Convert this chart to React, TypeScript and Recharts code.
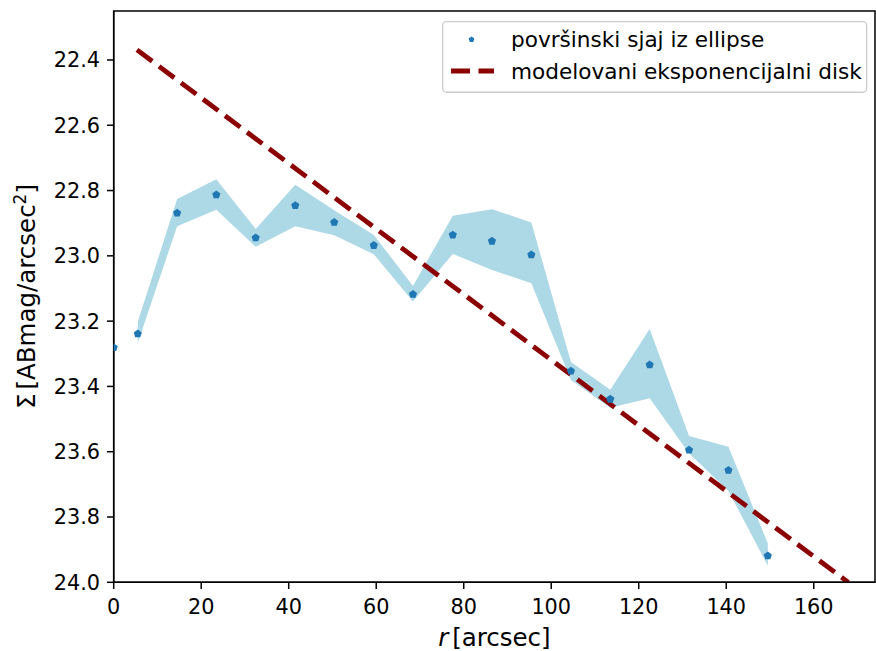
import React from "react";
import { ComposedChart, Area, Line, Scatter, XAxis, YAxis, Legend, ReferenceArea } from "recharts";

const FONT = "'DejaVu Sans', sans-serif";

// r [arcsec] for each isophote
const radius = [0, 5.5, 14.5, 23.45, 32.45, 41.5, 50.4, 59.45, 68.4, 77.5, 86.45, 95.45, 104.5, 113.5, 122.5, 131.5, 140.5, 149.5];
// surface brightness from ellipse
const brightness = [23.281, 23.239, 22.869, 22.813, 22.945, 22.846, 22.897, 22.968, 23.118, 22.936, 22.955, 22.997, 23.353, 23.439, 23.334, 23.595, 23.657, 23.919];
// error band edges (no band on the first point)
const bandLow = [null, 23.202, 22.826, 22.765, 22.918, 22.782, 22.86, 22.936, 23.092, 22.877, 22.857, 22.898, 23.325, 23.41, 23.224, 23.552, 23.585, 23.881];
const bandHigh = [null, 23.267, 22.909, 22.859, 22.972, 22.909, 22.937, 22.995, 23.14, 22.994, 23.043, 23.084, 23.38, 23.465, 23.436, 23.605, 23.72, 23.949];
// exponential disk model
const modelR = [5.33, 167.9];
const modelMag = [22.369, 24.0];

const xTicks = [0, 20, 40, 60, 80, 100, 120, 140, 160];
const yTicks = [22.4, 22.6, 22.8, 23.0, 23.2, 23.4, 23.6, 23.8, 24.0];

const rows = radius.map((r, i) => ({
  r,
  sb: brightness[i],
  band: bandLow[i] == null ? null : [bandLow[i], bandHigh[i]],
}));
const modelRows = modelR.map((r, i) => ({ r, model: modelMag[i] }));

function pentagon(cx: number, cy: number, rad: number) {
  const pts = [];
  for (let k = 0; k < 5; k++) {
    const a = -Math.PI / 2 + (k * 2 * Math.PI) / 5;
    pts.push(`${cx + rad * Math.cos(a)},${cy + rad * Math.sin(a)}`);
  }
  return pts.join(" ");
}

const Marker = (props: any) => {
  const { cx, cy } = props;
  if (cx == null || cy == null) return null;
  return <polygon points={pentagon(cx, cy, 4.3)} fill="#1f77b4" />;
};

const renderLegend = () => (
  <svg width={426} height={73} style={{ display: "block" }}>
    <rect x={0.65} y={0.65} width={424} height={70.6} rx={4} fill="#fff" fillOpacity={0.8} stroke="#cccccc" strokeWidth={1.3} />
    <polygon points={pentagon(29.5, 18.5, 3)} fill="#1f77b4" />
    <text x={69} y={18.5} dominantBaseline="central" fontFamily={FONT} fontSize={21.6} fill="#000">
      površinski sjaj iz ellipse
    </text>
    <line x1={9} y1={50} x2={52} y2={50} stroke="#8b0000" strokeWidth={4.8} strokeDasharray="19 8.5" />
    <text x={69} y={50} dominantBaseline="central" fontFamily={FONT} fontSize={21.6} fill="#000">
      modelovani eksponencijalni disk
    </text>
  </svg>
);

export default function App() {
  return (
    <div style={{ position: "absolute", left: 0, top: 0, width: 876, height: 651, background: "#fff" }}>
      <ComposedChart width={876} height={651} data={rows} margin={{ top: 11, right: 1, bottom: 0, left: 0 }}>
        <XAxis
          dataKey="r"
          type="number"
          domain={[0, 174]}
          ticks={xTicks}
          allowDataOverflow
          height={68.7}
          tickSize={6.7}
          tickMargin={10}
          axisLine={{ stroke: "#000", strokeWidth: 1.5 }}
          tickLine={{ stroke: "#000", strokeWidth: 1.5 }}
          tick={{ fill: "#000", fontSize: 20.8, fontFamily: FONT }}
        />
        <YAxis
          type="number"
          reversed
          domain={[22.25, 24.0]}
          ticks={yTicks}
          allowDataOverflow
          width={113.7}
          tickSize={6.7}
          tickMargin={7}
          tickFormatter={(v: number) => v.toFixed(1)}
          axisLine={{ stroke: "#000", strokeWidth: 1.5 }}
          tickLine={{ stroke: "#000", strokeWidth: 1.5 }}
          tick={{ fill: "#000", fontSize: 20.8, fontFamily: FONT }}
        />
        <Area
          type="linear"
          dataKey="band"
          stroke="none"
          fill="#add8e6"
          fillOpacity={1}
          isAnimationActive={false}
          legendType="none"
        />
        <Scatter dataKey="sb" shape={<Marker />} isAnimationActive={false} />
        <Line
          data={modelRows}
          type="linear"
          dataKey="model"
          stroke="#8b0000"
          strokeWidth={4.8}
          strokeDasharray="19 8.5"
          dot={false}
          activeDot={false}
          isAnimationActive={false}
        />
        <ReferenceArea x1={0} x2={174} y1={22.25} y2={24.0} fill="none" stroke="#000" strokeWidth={1.5} ifOverflow="visible" />
        <Legend
          layout="vertical"
          align="center"
          verticalAlign="middle"
          content={renderLegend}
          wrapperStyle={{ left: 442, top: 21, width: 426, height: 73 }}
        />
      </ComposedChart>
      <svg width={876} height={651} style={{ position: "absolute", left: 0, top: 0, pointerEvents: "none" }}>
        <text x={494.4} y={646} textAnchor="middle" fontFamily={FONT} fontSize={24.5} fill="#000">
          <tspan fontStyle="italic">r</tspan>
          <tspan dx={4}>[arcsec]</tspan>
        </text>
        <text
          transform="translate(35,296.5) rotate(-90)"
          textAnchor="middle"
          fontFamily={FONT}
          fontSize={24.5}
          fill="#000"
        >
          <tspan>Σ</tspan>
          <tspan dx={4}>[ABmag/arcsec</tspan>
          <tspan dy={-9} fontSize={17}>2</tspan>
          <tspan dy={9}>]</tspan>
        </text>
      </svg>
    </div>
  );
}
